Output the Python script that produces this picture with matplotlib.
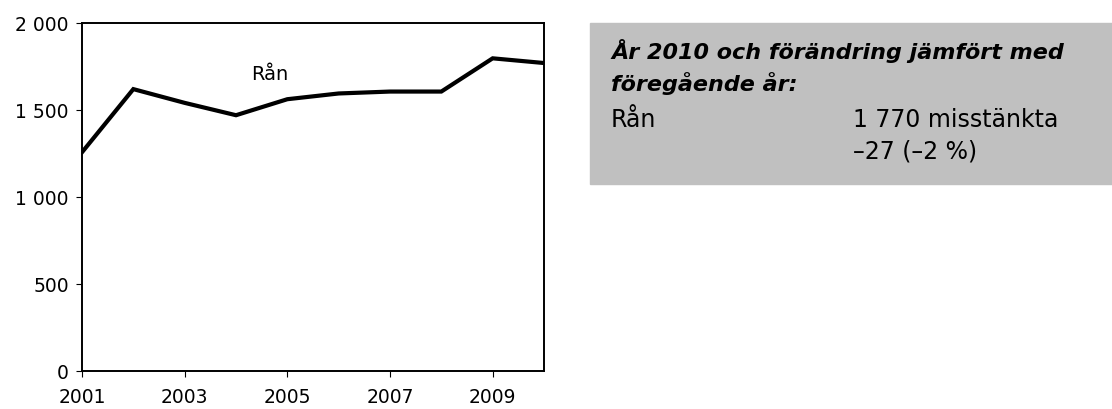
import numpy as np
import matplotlib
matplotlib.use('Agg')
import matplotlib.pyplot as plt
from matplotlib.patches import Rectangle

# antal misstänkta för rån per år
years = [2001, 2002, 2003, 2004, 2005, 2006, 2007, 2008, 2009, 2010]
ran = [1257, 1620, 1541, 1470, 1562, 1595, 1606, 1606, 1797, 1770]

xticks = [2001, 2003, 2005, 2007, 2009]
yticks = [0, 500, 1000, 1500, 2000]
ylabels = ['0', '500', '1 000', '1 500', '2 000']

W, H = 1112, 410
fig = plt.figure(figsize=(W / 100, H / 100), dpi=100)
plt.rcParams['font.family'] = ['DejaVu Sans']

def fx(px):
    return px / W

def fy(px):
    return 1 - px / H

ax = fig.add_axes([fx(82), fy(372), fx(544) - fx(82), fy(24) - fy(372)])
ax.plot(years, ran, color='black', lw=3, solid_joinstyle='miter')
ax.set_xlim(2001, 2010)
ax.set_ylim(0, 2000)
ax.set_xticks(xticks)
ax.set_xticklabels([str(x) for x in xticks])
ax.set_yticks(yticks)
ax.set_yticklabels(ylabels)
ax.tick_params(direction='out', length=4.5, width=0.8, labelsize=13.5, pad=5)
ax.tick_params(axis='x', pad=7)
for s in ax.spines.values():
    s.set_linewidth(1.4)
ax.text(2004.66, 1707, 'Rån', ha='center', va='center', fontsize=14)

# grå faktaruta
fig.patches.append(Rectangle((fx(590), fy(185)), fx(1112) - fx(590), fy(24) - fy(185),
                             transform=fig.transFigure, color='#c0c0c0', zorder=0))
fig.text(fx(611), fy(59), 'År 2010 och förändring jämfört med', fontsize=16,
         fontweight='bold', fontstyle='italic', va='baseline')
fig.text(fx(611), fy(91), 'föregående år:', fontsize=16,
         fontweight='bold', fontstyle='italic', va='baseline')
fig.text(fx(611), fy(127), 'Rån', fontsize=17, va='baseline')
fig.text(fx(853), fy(127), '1 770 misstänkta', fontsize=17, va='baseline')
fig.text(fx(853), fy(159), '\u201327 (\u20132 %)', fontsize=17, va='baseline')

fig.savefig('out.png', dpi=100)
